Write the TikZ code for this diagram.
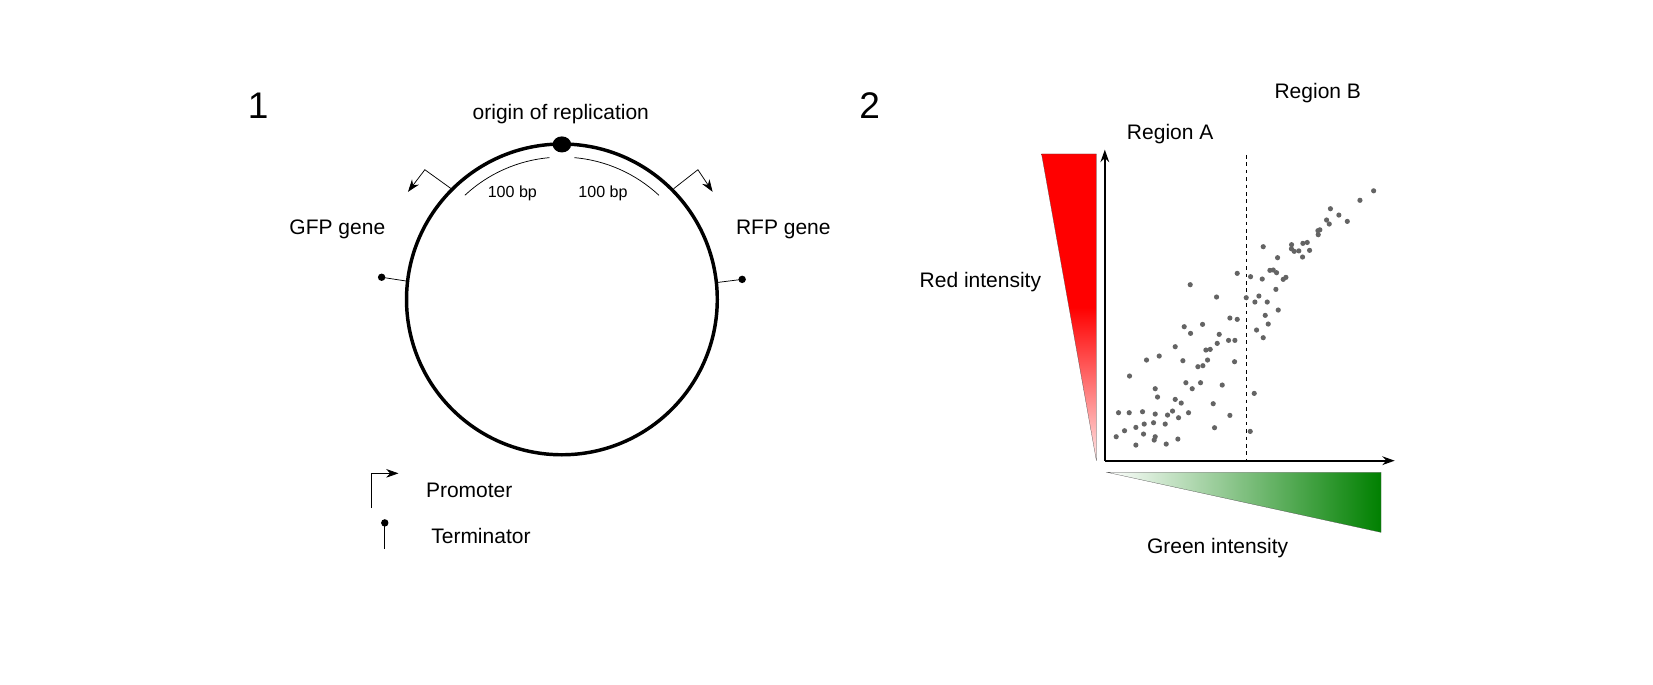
\documentclass[tikz,border=0pt]{standalone}
\usepackage{fontspec}
\setmainfont{Liberation Sans}
\usetikzlibrary{arrows.meta}
\definecolor{dotgrey}{RGB}{100,100,100}
\definecolor{darkgreen}{RGB}{0,128,0}
\pgfdeclareverticalshading{redfade}{100bp}{color(0bp)=(red!10); color(25bp)=(red!10); color(50bp)=(red); color(100bp)=(red)}
\tikzset{
  lbl/.style={font=\fontsize{17}{20}\selectfont},
  small/.style={font=\fontsize{13}{15}\selectfont},
  big/.style={font=\fontsize{30}{34}\selectfont},
  arr/.style={-{Stealth[length=10pt,width=7pt]}},
}
\begin{document}
\begin{tikzpicture}[x=0.03cm,y=-0.03cm]
      \useasboundingbox (0,0) rectangle (1568,649);
      \node[big] (n1) at (245,100) {1};
      \node[big] (n2) at (825,100) {2};

      \draw[line width=2.8pt] (533,284) circle (125.8pt);% plasmid
      \fill (533,137) ellipse (7.5pt and 6.5pt);% origin
      \node[lbl] (ori) at (532,108) {origin of replication};
      \draw[semithick] (533,284) ++(-95:135) arc (-95:-133:135);% left span
      \draw[semithick] (533,284) ++(-85:135) arc (-85:-47:135);% right span
      \node[small] (bpl) at (486,183) {100 bp};
      \node[small] (bpr) at (572,183) {100 bp};

      % promoters
      \coordinate (pl) at (428,179);
      \coordinate (pr) at (639,179);
      \draw[semithick,arr] (pl) -- (403,161) -- (387,182);
      \draw[semithick,arr] (pr) -- (662,161) -- (676,182);
      \node[lbl] (gfp) at (320,218) {GFP gene};
      \node[lbl] (rfp) at (743,218) {RFP gene};

      % terminators
      \fill (362,263) coordinate (tl) circle (3pt);
      \fill (704,265) coordinate (tr) circle (3pt);
      \draw[semithick] (tl) -- (388,267);
      \draw[semithick] (tr) -- (680,268);

      % legend
      \draw[semithick,arr] (352,482) -- (352,449) -- (378,449);
      \node[lbl,anchor=west] (prom) at (400,465) {Promoter};
      \fill (365,496) coordinate (tk) circle (3pt);
      \draw[semithick] (tk) -- (365,521);
      \node[lbl,anchor=west] (term) at (405,508) {Terminator};

      % panel 2
      \shade[shading=redfade] (988,146) -- (1040,146) -- (1040,437) -- cycle;
      \draw[very thin,black!70] (988,146) -- (1040,146) -- (1040,437) -- cycle;
      \shade[left color=white,right color=darkgreen] (1050,448) -- (1310,448) -- (1310,505) -- cycle;
      \draw[very thin,black!70] (1050,448) -- (1310,448) -- (1310,505) -- cycle;

      \coordinate (o) at (1048,437);
      \draw[line width=1.6pt,arr] (o) -- (1048,142);
      \draw[line width=1.6pt,arr] (o) -- (1323,437);
      \draw[thick,dashed] (1182,147) -- (1182,437);

      \node[lbl] (ra) at (1110,127) {Region A};
      \node[lbl] (rb) at (1250,88) {Region B};
      \node[lbl] (ri) at (930,268) {Red intensity};
      \node[lbl] (gi) at (1155,520) {Green intensity};

      \foreach \x/\y in {258/890,283/872,317/862,340/882,317/915,372/900,375/890,408/912,443/897,265/818,
        297/818,337/815,342/852,370/848,375/822,405/852,412/825,427/813,445/833,435/778,453/789,475/818,
        382/771,375/746,298/708,349/660,387/648,435/620,458/662,467/728,486/746,511/728,503/680,518/677,
        532/660,527/630,540/628,561/610,567/583,595/601,614/601,613/665,576/735,549/791,553/863,599/826,
        481/580,462/560,517/553,480/434,559/471,599/534,621/538,621/400,661/410,648/473,672/760,660/874,
        674/486,686/468,711/486,679/570,699/593,714/552,705/526,737/448,744/510,696/417,719/391,729/390,
        739/398,759/418,767/412,742/353,699/320,784/314,792/334,818/310,817/351,838/331,863/272,864/284,
        889/240,897/252}
        \fill[dotgrey] (977.2+\x/3.162,132.8+\y/3.162) circle (2.1pt);
      \foreach \x/\y in {1262/198,1270/204,1278/210,1290/190,1303/181,1252/218,1240/230,1232/238,1225/236}
        \fill[dotgrey] (\x,\y) circle (2.1pt);
    \end{tikzpicture}
\end{document}
